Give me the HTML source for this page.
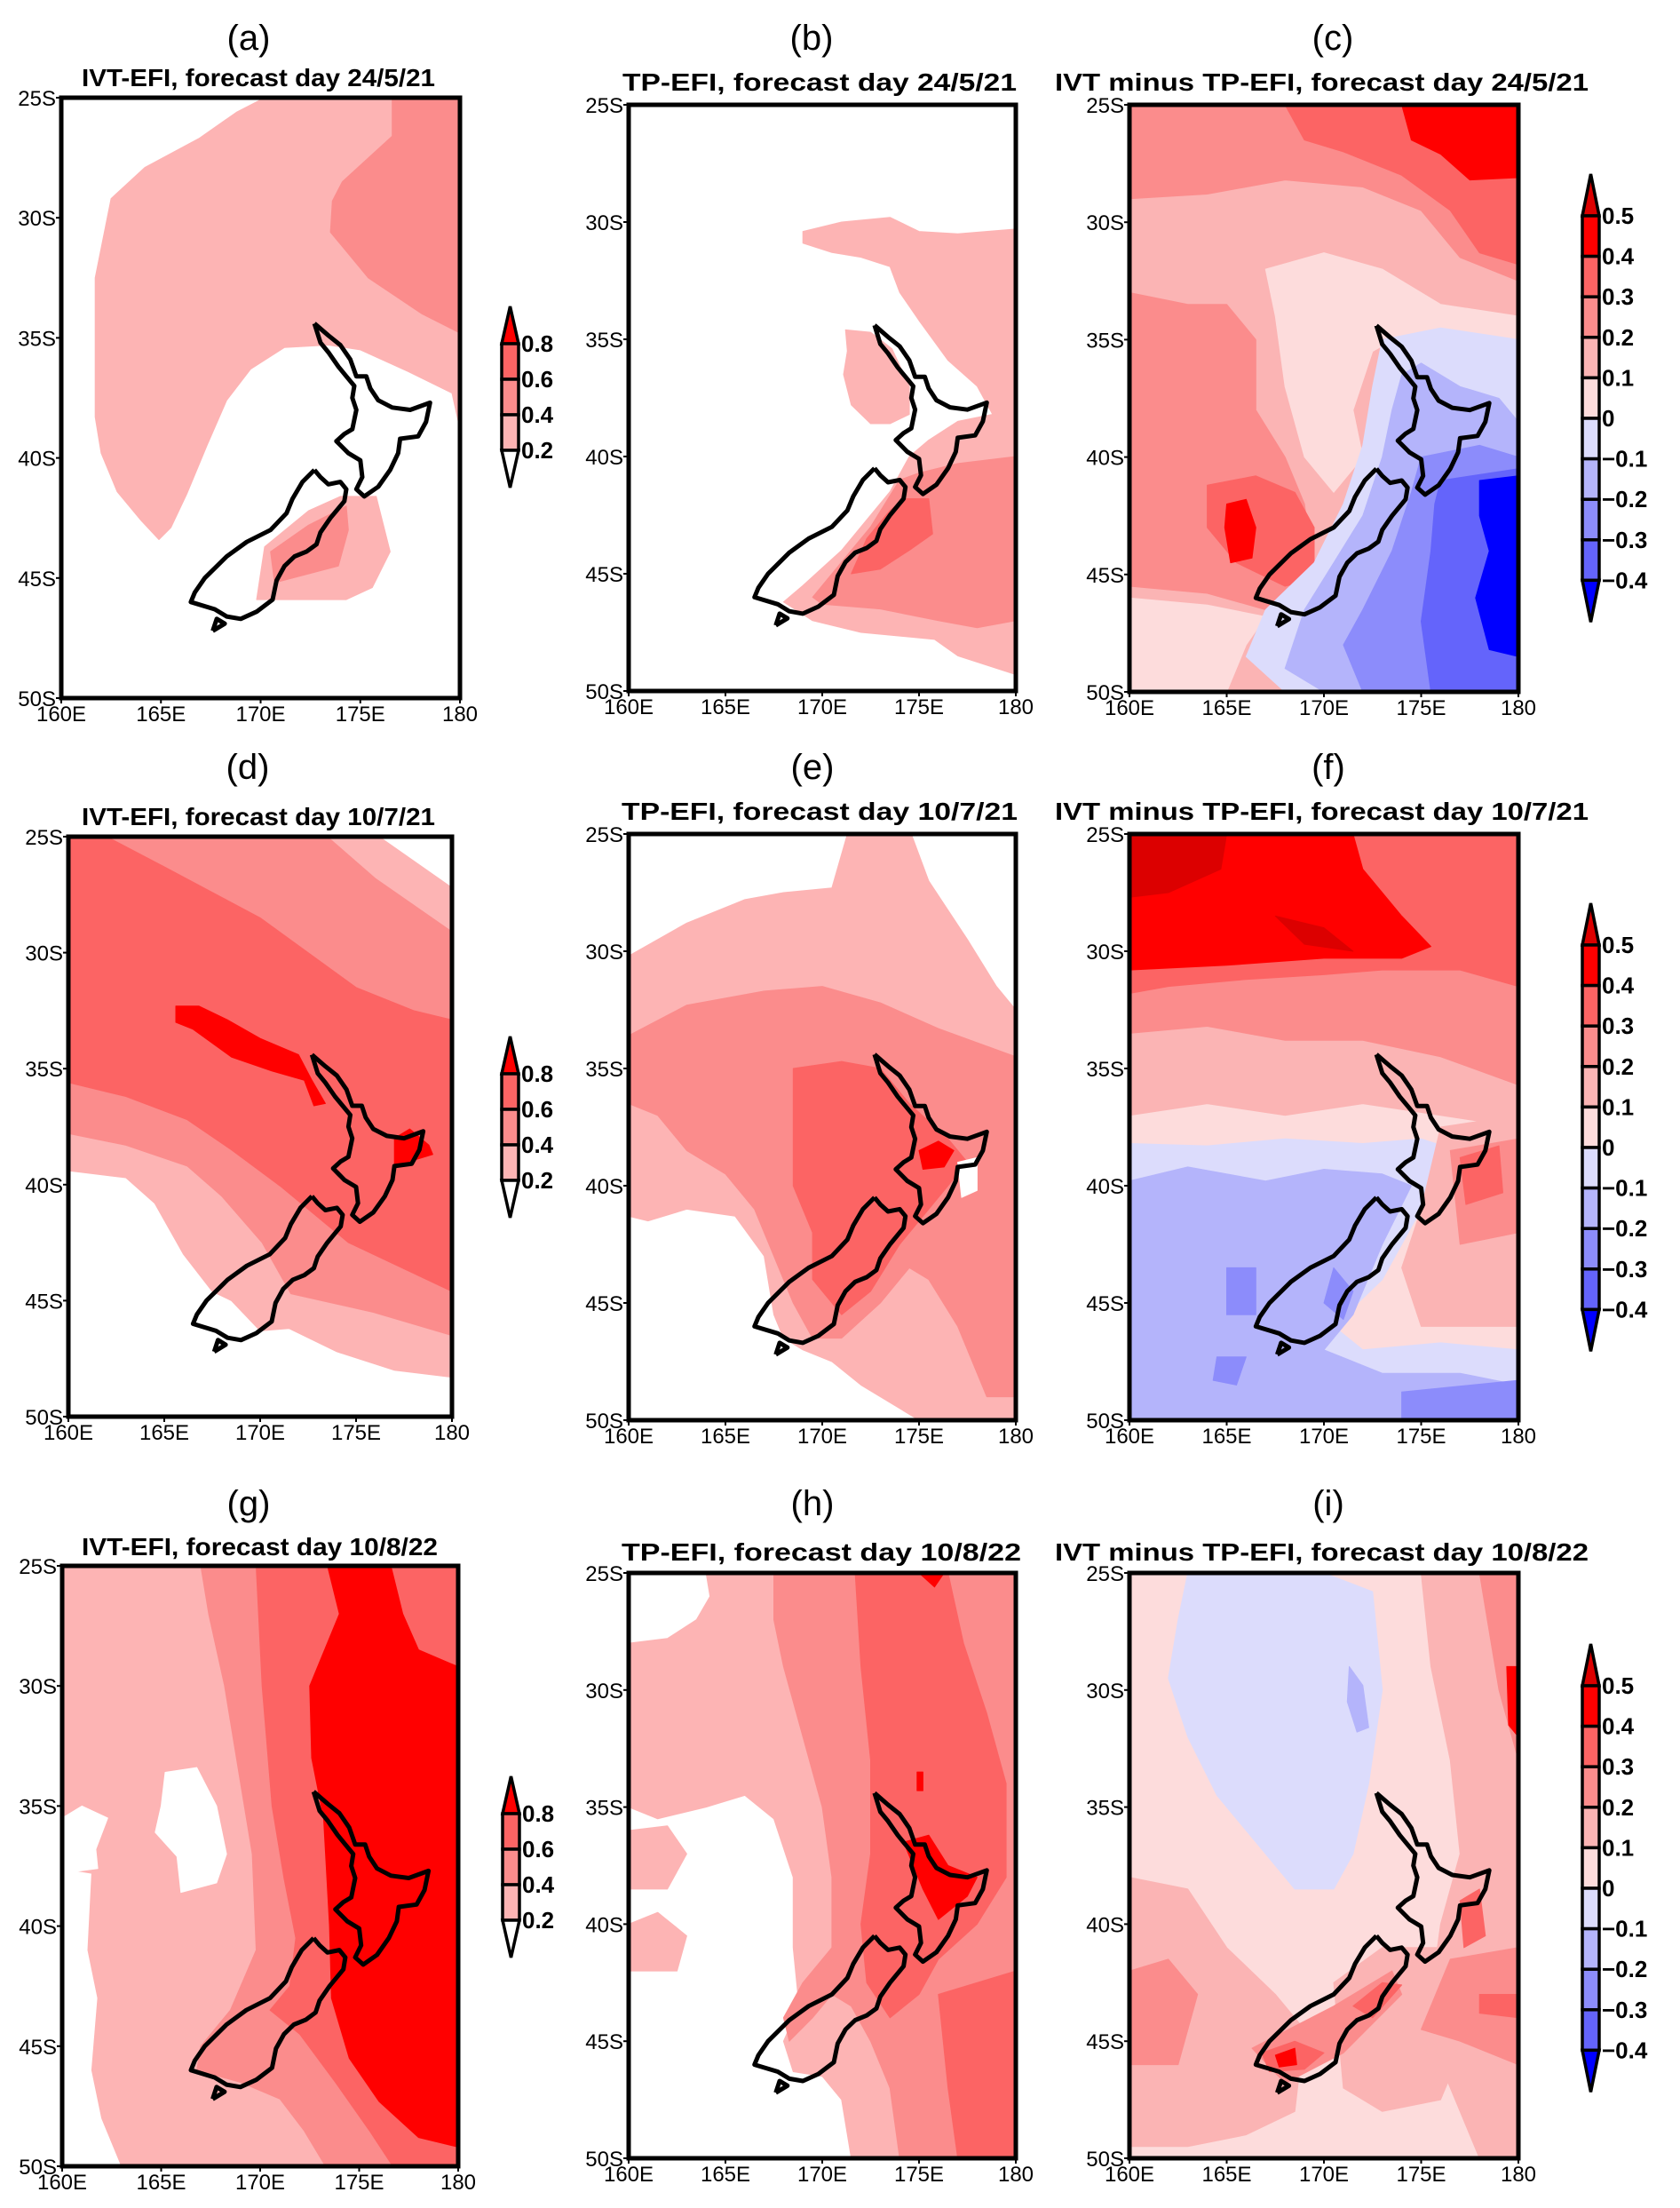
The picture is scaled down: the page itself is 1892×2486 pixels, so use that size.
<!DOCTYPE html>
<html><head><meta charset="utf-8">
<style>
html,body{margin:0;padding:0;background:#fff;}
svg{display:block;}
text{font-family:"Liberation Sans",sans-serif;}
</style></head>
<body>
<svg id="fig" width="1892" height="2486" viewBox="0 0 1892 2486" xmlns="http://www.w3.org/2000/svg">
<rect x="0" y="0" width="1892" height="2486" fill="#fff"/>
</svg>
<script>
// ---- data arrays (lon, lat) ----
const northIsland = [[172.7,-34.4],[173.4,-34.9],[174.0,-35.3],[174.5,-35.9],[174.8,-36.6],[175.3,-36.6],[175.5,-37.1],[175.9,-37.6],[176.6,-37.9],[177.5,-38.0],[178.5,-37.7],[178.3,-38.5],[177.9,-39.1],[177.0,-39.2],[176.9,-39.8],[176.5,-40.5],[175.9,-41.2],[175.2,-41.6],[174.8,-41.3],[175.1,-40.8],[175.0,-40.1],[174.4,-39.8],[173.8,-39.3],[174.2,-39.0],[174.6,-38.8],[174.8,-38.0],[174.6,-37.5],[174.7,-37.0],[174.3,-36.6],[173.9,-36.2],[173.4,-35.6],[173.0,-35.2],[172.7,-34.4]];
const southIsland = [[172.7,-40.5],[173.0,-40.8],[173.4,-41.1],[174.0,-41.0],[174.3,-41.3],[174.2,-41.8],[173.5,-42.5],[173.0,-43.1],[172.8,-43.6],[172.3,-43.9],[171.7,-44.1],[171.2,-44.5],[170.8,-45.1],[170.6,-45.9],[169.8,-46.4],[169.0,-46.7],[168.3,-46.6],[167.7,-46.3],[166.5,-46.0],[166.7,-45.6],[167.2,-45.0],[168.3,-44.1],[169.3,-43.5],[170.5,-43.0],[171.3,-42.3],[171.6,-41.7],[172.1,-41.0],[172.7,-40.5]];
const stewartIsland = [[167.6,-47.2],[168.2,-46.9],[167.8,-46.7],[167.6,-47.2]];

const efiLabels = ['0.8','0.6','0.4','0.2'];
const efiColors = ['#ff0000','#fc6464','#fb8c8c','#fdb4b4','#ffffff'];
const diffLabels = ['0.5','0.4','0.3','0.2','0.1','0','\u22120.1','\u22120.2','\u22120.3','\u22120.4'];
const diffColors = ['#dc0000','#ff0000','#fc6464','#fb8c8c','#fbb4b4','#fddcdc','#dcdcfc','#b4b4fb','#8c8cfb','#6464fb','#0000ff'];
const latTicks = [-25,-30,-35,-40,-45,-50];
const latLabels = ['25S','30S','35S','40S','45S','50S'];
const lonTicks = [160,165,170,175,180];
const lonLabels = ['160E','165E','170E','175E','180'];

// panel (a)
const aL1 = [[170.2,-25],[180,-25],[180,-38.8],[179.6,-37.3],[177.4,-36.4],[175,-35.5],[173.4,-35.3],[171.2,-35.4],[169.5,-36.3],[168.3,-37.6],[167.3,-39.5],[166.3,-41.5],[165.5,-42.9],[164.9,-43.4],[164,-42.6],[162.8,-41.4],[162,-39.8],[161.7,-38.3],[161.7,-32.5],[162.5,-29.2],[164.2,-27.9],[166.9,-26.7],[168.8,-25.6]];
const aL2 = [[176.6,-25],[180,-25],[180,-34.8],[178.1,-34.0],[175.4,-32.5],[173.5,-30.6],[173.6,-29.3],[174.1,-28.5],[176.6,-26.6]];
const aL1b = [[174.0,-41.6],[175.8,-41.6],[176.5,-43.9],[175.6,-45.4],[174.3,-45.9],[169.8,-45.9],[170.2,-43.7],[172.4,-42.2]];
const aL2b = [[174.3,-42.0],[174.4,-43.0],[173.9,-44.5],[170.7,-45.2],[170.5,-43.9],[172.4,-42.8]];
// panel (b)
const bL1 = [[169,-30.4],[171,-30.0],[173.5,-29.8],[175,-30.4],[177,-30.5],[180,-30.3],[180,-49.3],[177,-48.5],[175.8,-47.8],[172,-47.5],[169.5,-47.0],[168,-46.2],[169,-45.5],[171,-44],[172.5,-42.5],[173.5,-41.5],[174.5,-40],[175.5,-39.3],[177,-38.5],[178.8,-38.2],[178,-37],[176.5,-35.9],[175,-34.2],[174,-33],[173.5,-31.9],[172,-31.5],[170.5,-31.3],[169,-30.9]];
const bL1b = [[171.2,-34.6],[172.5,-34.7],[173.6,-35.4],[174.5,-37],[174.5,-38.2],[173.5,-38.6],[172.5,-38.6],[171.5,-37.8],[171.1,-36.5],[171.3,-35.5]];
const bL2 = [[169.5,-46],[171,-44.5],[172.5,-43],[174,-41],[175,-40.7],[177,-40.3],[180,-40.0],[180,-47.0],[178,-47.3],[176,-47.0],[173,-46.5],[170,-46.3]];
const bL3 = [[171.5,-45.0],[172.3,-43.5],[173.5,-42.3],[174.2,-41.8],[175.5,-41.8],[175.7,-43.3],[174.5,-44.0],[173,-44.8]];
// panel (c)
const cP2 = [[160,-25],[180,-25],[180,-32.5],[177,-31.5],[175,-29.5],[172,-28.5],[168,-28.2],[164,-28.8],[160,-29]];
const cP2b = [[160,-33],[163,-33.5],[165,-33.5],[166.5,-35],[166.5,-38],[168,-40],[169,-42],[169.5,-45],[167,-46.5],[164,-45.8],[160,-45.5]];
const cP3 = [[168,-25],[180,-25],[180,-31.8],[178,-31.3],[176.5,-29.5],[174,-28],[171,-27],[169,-26.5]];
const cP3b = [[164,-41.2],[166.5,-40.8],[168.5,-41.5],[169.5,-43],[169.5,-45.2],[168,-45.5],[165.5,-44.5],[164,-43]];
const cP4 = [[174,-25],[180,-25],[180,-28.1],[177.5,-28.2],[176,-27.1],[174.5,-26.5]];
const cP4b = [[165,-42],[166,-41.8],[166.5,-43],[166.3,-44.3],[165.2,-44.5],[164.9,-43]];
const cP0 = [[167,-32],[170,-31.3],[173,-32],[176,-33.5],[180,-34],[180,-36],[177,-35.5],[174,-34.8],[172.5,-35.5],[171.5,-38],[172,-40],[170.5,-41.5],[169,-40],[168,-37],[167.5,-34]];
const cP0b = [[160,-46],[164,-46.3],[167,-46.8],[166,-48],[165,-50],[160,-50]];
const cN1 = [[173,-35],[176,-34.5],[180,-35],[180,-50],[168,-50],[166,-48.5],[167,-46.5],[169.5,-44.5],[171,-42],[172,-39.5],[172.5,-37]];
const cN2 = [[174,-36.5],[175,-36],[177,-37],[179,-37.5],[180,-38.5],[180,-50],[170,-50],[168,-49],[169,-46.5],[170.5,-44.5],[172,-42.5],[173,-40],[173.5,-38]];
const cN3 = [[175,-40],[178,-39.5],[180,-40],[180,-50],[172,-50],[171,-48],[172,-46.5],[173.5,-44],[174.5,-41.5]];
const cN4 = [[176,-41],[180,-40.5],[180,-50],[175.5,-50],[175,-47],[175.5,-44],[175.7,-42]];
const cN5 = [[178,-41],[180,-40.8],[180,-48.5],[178.5,-48.2],[177.8,-46],[178.5,-44],[178,-42.5]];
// panel (d)
const dL1 = [[160,-25],[176.2,-25],[180,-27.2],[180,-48.3],[177,-48],[174,-47.2],[171.5,-46.2],[170,-46.3],[168.5,-45],[167.5,-44.6],[166,-43],[164.5,-40.8],[163,-39.7],[160,-39.4]];
const dL2 = [[160,-25],[173.5,-25],[176,-26.8],[180,-29.1],[180,-46.5],[175.9,-45.5],[171.6,-44.7],[170.1,-42.5],[168,-40.5],[166.2,-39.2],[163,-38.3],[160,-37.8]];
const dL3 = [[160,-25],[162,-25],[165,-26.3],[170,-28.5],[175,-31.5],[178,-32.5],[180,-32.9],[180,-44.6],[174.6,-42.5],[171.1,-40.1],[168.5,-38.5],[166.2,-37.2],[163,-36.2],[160,-35.6]];
const dL4 = [[165.6,-32.3],[166.8,-32.3],[168.3,-32.9],[170,-33.7],[172,-34.4],[172.7,-35.5],[173.4,-36.5],[172.8,-36.6],[172.3,-35.5],[170.6,-35.1],[168.5,-34.5],[166.5,-33.3],[165.6,-33.0]];
const dL4b = [[177,-38],[177.8,-37.6],[178.8,-38.3],[179,-38.7],[177.8,-39],[177,-39.2]];
// panel (e)
const eL1 = [[171.3,-25],[174.6,-25],[175.5,-27],[177.5,-29.5],[179,-31.5],[180,-32.5],[180,-50],[175,-50],[172,-48.5],[170.5,-47.5],[169,-47],[168,-46.5],[167.5,-45.5],[167,-43],[165.5,-41.3],[163,-41],[161,-41.5],[160,-41.3],[160,-30.2],[163,-28.8],[166,-27.8],[168,-27.5],[170.5,-27.3]];
const eL2 = [[160,-33.6],[163,-32.3],[167,-31.7],[170,-31.5],[173,-32.2],[176,-33.3],[180,-34.5],[180,-49],[178.5,-49],[177,-46],[175.5,-44],[174.5,-43.5],[173,-45],[171,-46.5],[169.5,-46.5],[168.5,-45],[167.5,-43],[166.5,-41],[165,-39.5],[163,-38.5],[161.5,-37],[160,-36.5]];
const eL3 = [[168.5,-35],[171,-34.7],[173,-35],[174.5,-36.5],[176.5,-38],[177.5,-39],[175.5,-41],[174,-42.5],[172.5,-44.5],[171,-45.5],[169.5,-44],[169.5,-42],[168.5,-40],[168.5,-37]];
const eL4 = [[175,-38.5],[176,-38.1],[176.8,-38.5],[176.3,-39.2],[175.2,-39.3]];
const eW = [[177,-39],[178,-38.8],[178,-40.2],[177.2,-40.5]];
// panel (f)
const fP1 = [[160,-25],[180,-25],[180,-37.5],[176,-37],[172,-36.5],[168,-37],[164,-36.5],[160,-37]];
const fP2 = [[160,-25],[180,-25],[180,-35.7],[176,-34.5],[172,-33.8],[168,-33.8],[164,-33.2],[160,-33.5]];
const fP3 = [[160,-25],[180,-25],[180,-31.5],[177,-30.8],[173,-30.8],[170,-31],[166,-31.2],[162,-31.5],[160,-31.8]];
const fP4 = [[160,-25],[171.5,-25],[172,-26.5],[174,-28.5],[175.5,-29.8],[174,-30.3],[170,-30.3],[165,-30.6],[160,-30.8]];
const fP5 = [[160,-25],[165,-25],[164.7,-26.5],[162,-27.5],[160,-27.7]];
const fP5b = [[167.5,-28.5],[170,-29],[171.5,-30],[169,-29.7]];
const fE1 = [[176,-37.5],[180,-37],[180,-46],[175,-46],[174,-43.5],[175,-41]];
const fE2 = [[176.5,-38.5],[180,-38],[180,-42],[177,-42.5]];
const fE3 = [[177,-38.8],[179,-38.3],[179.2,-40.3],[177.3,-40.8]];
const fN1 = [[160,-38.2],[164,-38.3],[168,-38],[172,-38.2],[175,-38],[176.5,-38.4],[175,-41],[173,-44],[170.5,-46],[172,-47],[176,-46.7],[180,-47],[180,-50],[160,-50]];
const fN2 = [[160,-39.8],[163,-39.2],[167,-39.8],[170,-39.3],[173,-39.5],[174.5,-40],[173,-42.5],[171.5,-45.5],[170,-47],[173,-48],[177,-48],[180,-48.5],[180,-50],[160,-50]];
const fN3a = [[165,-43.5],[166.5,-43.5],[166.5,-45.5],[165,-45.5]];
const fN3b = [[170.5,-43.5],[171.5,-44.5],[171,-45.7],[170,-45]];
const fN3c = [[164.5,-47.3],[166,-47.3],[165.5,-48.5],[164.3,-48.3]];
const fN3d = [[174,-48.8],[180,-48.3],[180,-50],[174,-50]];
// panel (g)
const gL1 = [[160,-25],[180,-25],[180,-50],[163,-50],[162,-48],[161.5,-46],[161.8,-43],[161.3,-41],[161.5,-37.8],[160,-37.6]];
const gW1 = [[160,-35.5],[161,-35],[162.3,-35.5],[161.7,-36.8],[161.8,-37.6],[160,-37.8]];
const gW2 = [[165.2,-33.6],[166.8,-33.4],[167.8,-35.0],[168.3,-37.0],[167.8,-38.2],[166,-38.6],[165.8,-37.1],[164.7,-36.1],[165,-35]];
const gL2 = [[167,-25],[180,-25],[180,-50],[173.3,-50],[172.2,-48.5],[171,-47.2],[169,-46.5],[166.8,-46],[167,-45],[168.5,-43.5],[169.8,-41],[169.6,-37],[169,-34],[168.2,-30],[167.4,-27]];
const gL3 = [[169.8,-25],[180,-25],[180,-50],[176.7,-50],[175.5,-48.5],[173.8,-46.5],[172,-44.5],[170.5,-43.5],[171.5,-42.5],[171.8,-40.5],[171.2,-38],[170.6,-35],[170.1,-30]];
const gL4 = [[173.4,-25],[176.6,-25],[177.2,-27],[178,-28.5],[180,-29.2],[180,-49.2],[178,-48.8],[176,-47.3],[174.5,-45.5],[173.6,-43],[173.5,-40],[173.2,-35.5],[172.6,-33],[172.5,-30],[174,-27]];
// panel (h)
const hL1 = [[164,-25],[180,-25],[180,-50],[171.5,-50],[171,-47.5],[170,-46.5],[168.5,-46.3],[168,-45],[168.8,-43.5],[168.5,-41],[168.5,-38],[167.5,-35.5],[166,-34.5],[164,-35],[161.5,-35.5],[160,-35],[160,-28],[162,-27.8],[163.5,-27],[164.2,-26]];
const hL1b = [[160,-36],[162,-35.8],[163,-37],[162,-38.5],[160,-38.5]];
const hL1c = [[160,-40],[161.5,-39.5],[163,-40.5],[162.5,-42],[160,-42]];
const hL2 = [[167.5,-25],[180,-25],[180,-50],[174,-50],[173.5,-47],[172.5,-45],[171.5,-43.5],[170.5,-43],[169.5,-44],[168.3,-45],[168,-44],[169,-42.5],[170.5,-41],[170.5,-38],[170,-35],[169,-32],[168,-29],[167.5,-27]];
const hL3 = [[171.7,-25],[176.5,-25],[177.3,-28],[178.5,-31],[179.5,-34],[179.5,-38],[178,-40],[176,-41.5],[175,-43],[173.5,-44],[172.3,-42.5],[172,-40],[172.5,-37],[172.5,-33],[172,-29]];
const hL3b = [[176,-43],[180,-42],[180,-50],[177,-50],[176.5,-47]];
const hL4 = [[174.2,-36.5],[175.5,-36.2],[176.5,-37.5],[178,-38],[177.5,-38.8],[176,-39.8],[175.2,-38.5]];
const hL4b = [[175,-25],[176.3,-25],[175.8,-25.6]];
const hL4c = [[174.9,-33.5],[175.2,-33.5],[175.2,-34.3],[174.9,-34.3]];
// panel (i)
const iN1 = [[163,-25],[170,-25],[172.5,-25.8],[173,-30],[172.3,-34],[171.5,-37],[170.5,-38.5],[168.5,-38.5],[166.5,-36.5],[164.5,-34.5],[163,-32],[162,-29.5],[162.5,-27]];
const iN2 = [[171.3,-29],[172,-29.8],[172.3,-31.6],[171.7,-31.8],[171.2,-30.5]];
const iP1a = [[175,-25],[180,-25],[180,-50],[178,-50],[176,-46],[175.5,-43],[176,-40],[177,-37],[176.5,-33],[175.5,-29]];
const iP1b = [[160,-38],[163,-38.5],[165,-41],[167.5,-43],[169,-44.5],[168.5,-48],[166,-49],[163,-49.5],[160,-49.5]];
const iP1c = [[170.5,-42.5],[173,-41],[176,-41],[177.5,-44.5],[176,-47.5],[173,-48],[171,-47]];
const iP2a = [[176.5,-41.5],[180,-41],[180,-46],[177,-45],[175,-44.5]];
const iP2b = [[166.3,-45.3],[170.5,-43.5],[173.5,-42],[174,-43],[171,-45.5],[168,-46.8]];
const iP2c = [[178,-25],[180,-25],[180,-33],[179,-30]];
const iP2d = [[160,-42],[162,-41.5],[163.5,-43],[162.5,-46],[160,-46]];
const iP3a = [[177,-39],[178,-38.5],[178.3,-40.5],[177.2,-41]];
const iP3b = [[166.8,-45.5],[168.5,-45],[170,-45.5],[169,-46.2],[167.2,-46.3]];
const iP3c = [[171.5,-43.5],[173,-42.5],[174,-42.6],[172.5,-44]];
const iP3d = [[178,-43],[180,-43],[180,-44],[178,-43.8]];
const iP4a = [[179.4,-29],[180,-29],[180,-32],[179.5,-31.5]];
const iP4b = [[167.5,-45.6],[168.5,-45.3],[168.6,-46],[167.7,-46.1]];

const FULL = [[160,-25],[180,-25],[180,-50],[160,-50]];

const panels = [
 {id:'a',lab:'(a)',title:'IVT-EFI, forecast day 24/5/21',x0:69,x1:518,y0:110,y1:786,lx:280,ly:42,tx0:92,tx1:490,ty:97,cb:'efi',cbx:565,cbt:345,
  layers:[['#fdb4b4',aL1],['#fb8c8c',aL2],['#fdb4b4',aL1b],['#fb8c8c',aL2b]]},
 {id:'b',lab:'(b)',title:'TP-EFI, forecast day 24/5/21',x0:708,x1:1144,y0:118,y1:778,lx:914,ly:42,tx0:701,tx1:1145,ty:102,
  layers:[['#fdb4b4',bL1],['#fdb4b4',bL1b],['#fb8c8c',bL2],['#fc6464',bL3]]},
 {id:'c',lab:'(c)',title:'IVT minus TP-EFI, forecast day 24/5/21',x0:1272,x1:1710,y0:118,y1:779,lx:1501,ly:42,tx0:1188,tx1:1789,ty:102,cb:'diff',cbx:1782,cbt:196,
  layers:[['#fbb4b4',FULL],['#fb8c8c',cP2],['#fb8c8c',cP2b],['#fc6464',cP3],['#fc6464',cP3b],['#ff0000',cP4],['#ff0000',cP4b],['#fddcdc',cP0],['#fddcdc',cP0b],['#dcdcfc',cN1],['#b4b4fb',cN2],['#8c8cfb',cN3],['#6464fb',cN4],['#0000ff',cN5]]},
 {id:'d',lab:'(d)',title:'IVT-EFI, forecast day 10/7/21',x0:77,x1:509,y0:942,y1:1595,lx:279,ly:863,tx0:92,tx1:490,ty:929,cb:'efi',cbx:565,cbt:1167,
  layers:[['#fdb4b4',dL1],['#fb8c8c',dL2],['#fc6464',dL3],['#ff0000',dL4],['#ff0000',dL4b]]},
 {id:'e',lab:'(e)',title:'TP-EFI, forecast day 10/7/21',x0:708,x1:1144,y0:939,y1:1599,lx:915,ly:863,tx0:700,tx1:1146,ty:923,
  layers:[['#fdb4b4',eL1],['#fb8c8c',eL2],['#fc6464',eL3],['#ff0000',eL4],['#ffffff',eW]]},
 {id:'f',lab:'(f)',title:'IVT minus TP-EFI, forecast day 10/7/21',x0:1272,x1:1710,y0:939,y1:1599,lx:1496,ly:863,tx0:1188,tx1:1789,ty:923,cb:'diff',cbx:1782,cbt:1017,
  layers:[['#fddcdc',FULL],['#fbb4b4',fP1],['#fb8c8c',fP2],['#fc6464',fP3],['#ff0000',fP4],['#dc0000',fP5],['#dc0000',fP5b],['#dcdcfc',fN1],['#b4b4fb',fN2],['#fbb4b4',fE1],['#fb8c8c',fE2],['#fc6464',fE3],['#8c8cfb',fN3a],['#8c8cfb',fN3b],['#8c8cfb',fN3c],['#8c8cfb',fN3d]]},
 {id:'g',lab:'(g)',title:'IVT-EFI, forecast day 10/8/22',x0:70,x1:516,y0:1763,y1:2439,lx:280,ly:1692,tx0:92,tx1:493,ty:1751,cb:'efi',cbx:566,cbt:2000,
  layers:[['#fdb4b4',gL1],['#ffffff',gW1],['#ffffff',gW2],['#fb8c8c',gL2],['#fc6464',gL3],['#ff0000',gL4]]},
 {id:'h',lab:'(h)',title:'TP-EFI, forecast day 10/8/22',x0:708,x1:1144,y0:1771,y1:2430,lx:915,ly:1692,tx0:700,tx1:1150,ty:1757,
  layers:[['#fdb4b4',hL1],['#fdb4b4',hL1b],['#fdb4b4',hL1c],['#fb8c8c',hL2],['#fc6464',hL3],['#fc6464',hL3b],['#ff0000',hL4],['#ff0000',hL4b],['#ff0000',hL4c]]},
 {id:'i',lab:'(i)',title:'IVT minus TP-EFI, forecast day 10/8/22',x0:1272,x1:1710,y0:1771,y1:2430,lx:1496,ly:1692,tx0:1188,tx1:1789,ty:1757,cb:'diff',cbx:1782,cbt:1851,
  layers:[['#fddcdc',FULL],['#dcdcfc',iN1],['#b4b4fb',iN2],['#fbb4b4',iP1a],['#fbb4b4',iP1b],['#fbb4b4',iP1c],['#fb8c8c',iP2a],['#fb8c8c',iP2b],['#fb8c8c',iP2c],['#fb8c8c',iP2d],['#fc6464',iP3a],['#fc6464',iP3b],['#fc6464',iP3c],['#fc6464',iP3d],['#ff0000',iP4a],['#ff0000',iP4b]]}
];

const NS='http://www.w3.org/2000/svg';
const svg=document.getElementById('fig');
function mk(tag,attrs,parent){const e=document.createElementNS(NS,tag);for(const k in attrs)e.setAttribute(k,attrs[k]);(parent||svg).appendChild(e);return e;}

panels.forEach(p=>{
  const xs=lon=>p.x0+(lon-160)/20*(p.x1-p.x0);
  const ys=lat=>p.y0+(-25-lat)/25*(p.y1-p.y0);
  const pts=arr=>arr.map(q=>xs(q[0]).toFixed(1)+','+ys(q[1]).toFixed(1)).join(' ');
  const g=mk('g',{});
  
  
  const cp=mk('clipPath',{id:'clip'+p.id},g);
  mk('rect',{x:p.x0,y:p.y0,width:p.x1-p.x0,height:p.y1-p.y0},cp);
  const lg=mk('g',{'clip-path':'url(#clip'+p.id+')'},g);
  
  
  p.layers.forEach(L=>{
    const pg=mk('polygon',{points:pts(L[1]),fill:L[0],stroke:L[0],'stroke-width':1,'stroke-linejoin':'round'},lg);
    
    
  });
  [northIsland,southIsland,stewartIsland].forEach((c,k)=>{
    const pl=mk('polyline',{points:pts(c),fill:'none',stroke:'#000','stroke-width':5,'stroke-linejoin':'round'},lg);
    
    
  });
  latTicks.forEach((lt,k)=>{
    const y=ys(lt);
    mk('line',{x1:p.x0-6,x2:p.x0,y1:y,y2:y,stroke:'#000','stroke-width':2},g);
    const t=mk('text',{x:p.x0-6,y:y+9,'text-anchor':'end','font-size':24,fill:'#000'},g);
    t.textContent=latLabels[k];
    
    
  });
  lonTicks.forEach((ln,k)=>{
    const x=xs(ln);
    mk('line',{x1:x,x2:x,y1:p.y1,y2:p.y1+6,stroke:'#000','stroke-width':2},g);
    const t=mk('text',{x:x,y:p.y1+26,'text-anchor':'middle','font-size':24,fill:'#000'},g);
    t.textContent=lonLabels[k];
    
    
  });
  const fr=mk('rect',{x:p.x0,y:p.y0,width:p.x1-p.x0,height:p.y1-p.y0,fill:'none',stroke:'#000','stroke-width':5},g);
  
  
  const tt=mk('text',{x:p.tx0,y:p.ty,'font-size':28,'font-weight':'bold',fill:'#000',textLength:p.tx1-p.tx0,lengthAdjust:'spacingAndGlyphs'},g);
  tt.textContent=p.title;
  
  
  const lb=mk('text',{x:p.lx,y:p.ly+14,'text-anchor':'middle','font-size':40,fill:'#000'},g);
  lb.textContent=p.lab;
  
  
  if(p.cb){
    const cg=mk('g',{},g);
    
    
    const w=19, x=p.cbx;
    let tri,box,labels,colors;
    if(p.cb==='efi'){tri=42;box=40;labels=efiLabels;colors=efiColors;}
    else{tri=47;box=45.6;labels=diffLabels;colors=diffColors;}
    const nb=colors.length-2;
    const top=p.cbt, b0=top+tri, bEnd=b0+nb*box, bot=bEnd+tri;
    mk('polygon',{points:`${x+w/2},${top} ${x+w},${b0} ${x},${b0}`,fill:colors[0],stroke:'#000','stroke-width':3.5,'stroke-linejoin':'miter'},cg);
    for(let k=0;k<nb;k++){
      mk('rect',{x:x,y:b0+k*box,width:w,height:box,fill:colors[k+1],stroke:'#000','stroke-width':3.5},cg);
    }
    mk('polygon',{points:`${x},${bEnd} ${x+w},${bEnd} ${x+w/2},${bot}`,fill:colors[colors.length-1],stroke:'#000','stroke-width':3.5},cg);
    labels.forEach((s,k)=>{
      const t=mk('text',{x:x+w+3,y:b0+k*box+9,'font-size':26,'font-weight':'bold',fill:'#000'},cg);
      t.textContent=s;
      
      
    });
  }
});
</script>
</body></html>
